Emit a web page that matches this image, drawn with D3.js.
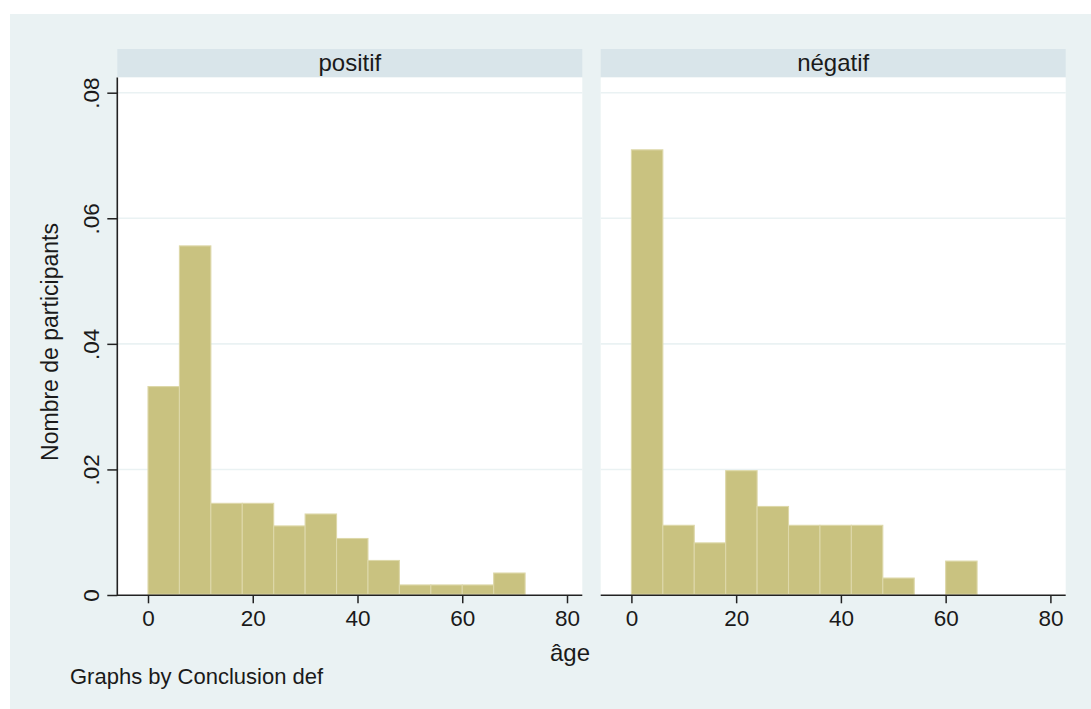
<!DOCTYPE html>
<html>
<head>
<meta charset="utf-8">
<script src="https://cdn.jsdelivr.net/npm/d3@7"></script>
<style>
  html, body { margin: 0; padding: 0; background: #ffffff; }
  svg { display: block; }
  text { font-family: "Liberation Sans", Arial, Helvetica, sans-serif; fill: #1a1a1a; }
</style>
</head>
<body>
<svg id="chart" width="1091" height="709"></svg>
<script>
// ---- data ----
const panelLabels = ["positif", "négatif"];
const binStarts = [0, 6, 12, 18, 24, 30, 36, 42, 48, 54, 60, 66];
const binWidth = 6;
const positifDensity = [0.0332, 0.0556, 0.0146, 0.0146, 0.0110, 0.0129, 0.0090, 0.0055, 0.0016, 0.0016, 0.0016, 0.0035];
const negatifDensity = [0.0709, 0.0111, 0.0083, 0.0198, 0.0141, 0.0111, 0.0111, 0.0111, 0.0027, 0.0, 0.0054, 0.0];
const xTicks = [0, 20, 40, 60, 80];
const yTicks = [0, 0.02, 0.04, 0.06, 0.08];
const yTickLabels = ["0", ".02", ".04", ".06", ".08"];
const xTitle = "âge";
const yTitle = "Nombre de participants";
const noteText = "Graphs by Conclusion def";

// ---- layout ----
const svg = d3.select("#chart");
const W = 1091, H = 709;
const bg = "#eaf2f3", stripFill = "#d9e5ea", barFill = "#c9c280", barLine = "#ddd8a9";
const panelW = 465;
const plotTop = 77.5, plotBottom = 595.3;
const stripTop = 49;
const panelLefts = [117.3, 600.7];

svg.append("rect").attr("x", 0).attr("y", 0).attr("width", W).attr("height", H).attr("fill", "#ffffff");
svg.append("rect").attr("x", 10).attr("y", 14).attr("width", W - 10).attr("height", H - 14).attr("fill", bg);

const y = d3.scaleLinear().domain([0, 0.08]).range([595, 92.7]);

const panelData = [positifDensity, negatifDensity];

panelData.forEach((vals, pi) => {
  const L = panelLefts[pi];
  const x = d3.scaleLinear().domain([0, 80]).range([L + 30.7, L + 449.7]);
  const g = svg.append("g");

  // strip
  g.append("rect").attr("x", L).attr("y", stripTop).attr("width", panelW).attr("height", plotTop - stripTop - 0.3).attr("fill", stripFill);
  g.append("text").attr("x", L + panelW / 2).attr("y", plotTop - 6.5).attr("text-anchor", "middle")
    .style("font-size", "24px").text(panelLabels[pi]);

  // plot region
  g.append("rect").attr("x", L).attr("y", plotTop).attr("width", panelW).attr("height", plotBottom - plotTop).attr("fill", "#ffffff");

  // gridlines
  g.selectAll("line.grid").data(yTicks.filter(t => t > 0)).join("line")
    .attr("x1", L).attr("x2", L + panelW)
    .attr("y1", d => y(d)).attr("y2", d => y(d))
    .attr("stroke", bg).attr("stroke-width", 1.6);

  // bars
  const bars = binStarts.map((s, i) => ({ s, v: vals[i] })).filter(d => d.v > 0);
  g.selectAll("rect.bar").data(bars).join("rect")
    .attr("x", d => x(d.s))
    .attr("width", d => x(d.s + binWidth) - x(d.s))
    .attr("y", d => y(d.v))
    .attr("height", d => y(0) - y(d.v) - 0.7)
    .attr("fill", barFill)
    .attr("stroke", barLine)
    .attr("stroke-width", 1.1);

  // x axis
  const xAxis = d3.axisBottom(x).tickValues(xTicks).tickSize(8).tickPadding(7).tickFormat(d3.format("d"));
  const ax = g.append("g").attr("transform", `translate(0,${plotBottom})`).call(xAxis);
  ax.select(".domain").remove();
  ax.selectAll(".tick line").attr("stroke", "#222").attr("stroke-width", 1.5);
  ax.selectAll(".tick text").style("font-size", "22.5px").attr("fill", "#1a1a1a").attr("font-family", null);
  g.append("line").attr("x1", L).attr("x2", L + panelW).attr("y1", plotBottom).attr("y2", plotBottom)
    .attr("stroke", "#222").attr("stroke-width", 1.6);

  // y axis (first panel only)
  if (pi === 0) {
    const yAxis = d3.axisLeft(y).tickValues(yTicks).tickSize(10).tickFormat((d, i) => yTickLabels[i]);
    const ay = g.append("g").attr("transform", `translate(${L},0)`).call(yAxis);
    ay.select(".domain").remove();
    ay.selectAll(".tick line").attr("stroke", "#222").attr("stroke-width", 1.5);
    ay.selectAll(".tick text")
      .style("font-size", "22.5px").attr("fill", "#1a1a1a").attr("font-family", null)
      .attr("x", null).attr("dy", null)
      .attr("text-anchor", "middle")
      .attr("transform", "translate(-18,0) rotate(-90)");
    g.append("line").attr("x1", L).attr("x2", L).attr("y1", plotTop).attr("y2", plotBottom + 0.8)
      .attr("stroke", "#222").attr("stroke-width", 1.6);
  }
});

// titles
svg.append("text").attr("x", 570).attr("y", 661).attr("text-anchor", "middle")
  .style("font-size", "24px").text(xTitle);
svg.append("text").attr("transform", "translate(58,342) rotate(-90)").attr("text-anchor", "middle")
  .style("font-size", "23px").text(yTitle);
svg.append("text").attr("x", 70).attr("y", 684).style("font-size", "22px").text(noteText);
</script>
</body>
</html>
